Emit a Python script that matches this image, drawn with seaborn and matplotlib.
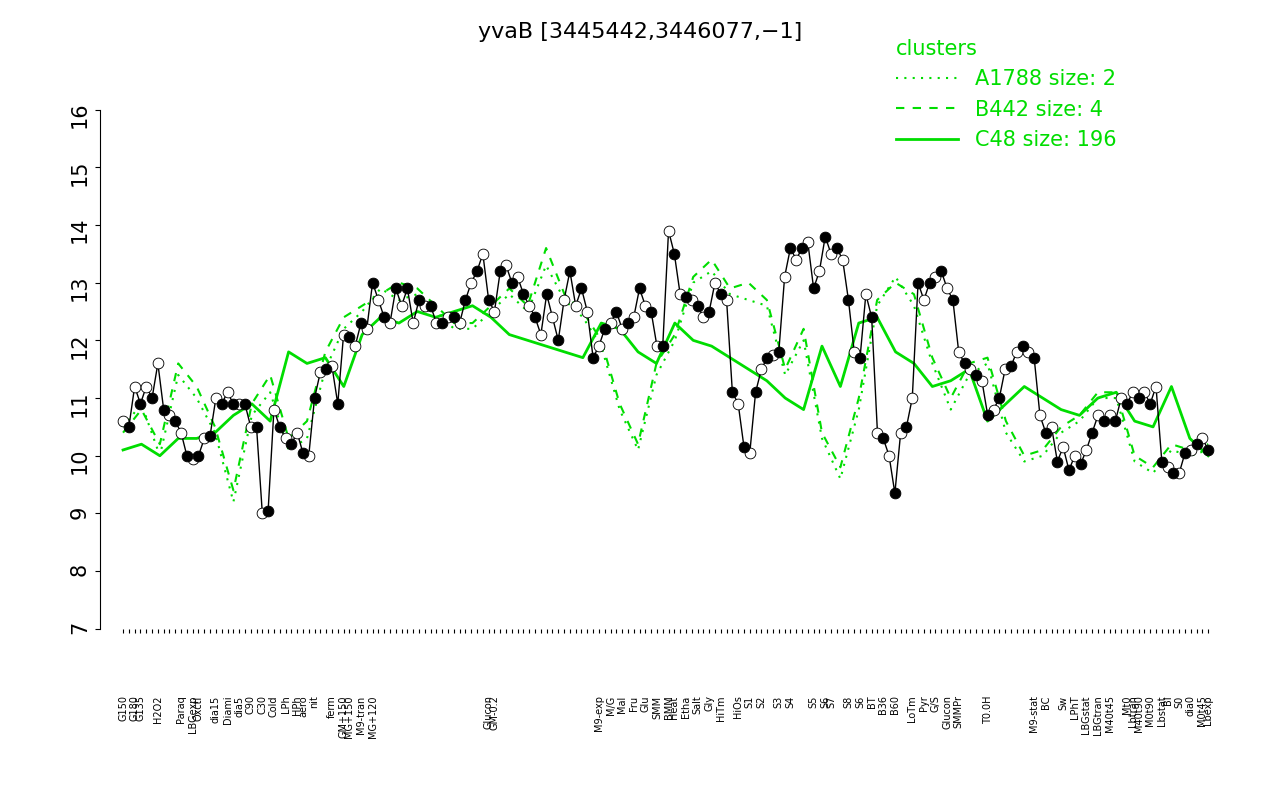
import numpy as np
import pandas as pd
import seaborn as sns
import matplotlib.pyplot as plt
from matplotlib.lines import Line2D

labels = ["G150","","G180","G135","","","H2O2","","","","Paraq","","LBGexp","Oxctl","","",
          "dia15","","Diami","","dia5","","C90","","C30","","Cold","","LPh","","HPh","aero","",
          "nit","","","ferm","","GM+150","MG+150","","M9-tran","","MG+120","","","","","","","",
          "","","","","","","","","","","","","Glucon","GM-0.2","","","","","","","","","","","",
          "","","","","","","M9-exp","","M/G","","Mal","","Fru","","Glu","","SMM","","BMM","Heat",
          "","Etha","","Salt","","Gly","","HiTm","","","HiOs","","S1","","S2","","","S3","","S4",
          "","","","S5","","S6","S7","","","S8","","S6","","BT","","B36","","B60","","","LoTm","",
          "Pyr","","G/S","","Glucon","","SMMPr","","","","","T0.0H","","","","","","","","M9-stat",
          "","BC","","","Sw","","LPhT","","LBGstat","","LBGtran","","M40t45","","","Mt0","Lbtran",
          "M40t90","","M0t90","","Lbstat","BI","","S0","","dia0","","M0t45","Lbexp","Mt0"]
values = [10.6,10.5,11.2,10.9,11.2,11.0,11.6,10.8,10.7,10.6,10.4,10.0,9.95,10.0,10.3,10.35,
          11.0,10.9,11.1,10.9,10.9,10.9,10.5,10.5,9.0,9.05,10.8,10.5,10.3,10.2,10.4,10.05,10.0,
          11.0,11.45,11.5,11.55,10.9,12.1,12.05,11.9,12.3,12.2,13.0,12.7,12.4,12.3,12.9,12.6,12.9,12.3,
          12.7,12.6,12.6,12.3,12.3,12.4,12.4,12.3,12.7,13.0,13.2,13.5,12.7,12.5,13.2,13.3,13.0,13.1,12.8,
          12.6,12.4,12.1,12.8,12.4,12.0,12.7,13.2,12.6,12.9,12.5,11.7,11.9,12.2,12.3,12.5,12.2,12.3,12.4,
          12.9,12.6,12.5,11.9,11.9,13.9,13.5,12.8,12.75,12.7,12.6,12.4,12.5,13.0,12.8,12.7,11.1,10.9,
          10.15,10.05,11.1,11.5,11.7,11.75,11.8,13.1,13.6,13.4,13.6,13.7,12.9,13.2,13.8,13.5,13.6,13.4,
          12.7,11.8,11.7,12.8,12.4,10.4,10.3,10.0,9.35,10.4,10.5,11.0,13.0,12.7,13.0,13.1,13.2,12.9,12.7,
          11.8,11.6,11.5,11.4,11.3,10.7,10.8,11.0,11.5,11.55,11.8,11.9,11.8,11.7,10.7,10.4,10.5,9.9,10.15,
          9.75,10.0,9.85,10.1,10.4,10.7,10.6,10.7,10.6,11.0,10.9,11.1,11.0,11.1,10.9,11.2,9.9,9.8,9.7,9.7,
          10.05,10.1,10.2,10.3,10.1]
c48 = [10.1,10.2,10.0,10.3,10.3,10.4,10.7,10.9,10.6,11.8,11.6,11.7,11.2,12.1,12.4,12.3,12.5,12.4,
       12.5,12.6,12.4,12.1,12.0,11.9,11.8,11.7,12.3,12.2,11.8,11.6,12.3,12.0,11.9,11.7,11.5,11.3,11.0,
       10.8,11.9,11.2,12.3,12.4,11.8,11.6,11.2,11.3,11.5,10.6,10.9,11.2,11.0,10.8,10.7,11.0,11.1,10.6,
       10.5,11.2,10.3,10.0]
b442 = [10.4,10.8,10.2,11.6,11.2,10.5,9.4,10.9,11.4,10.3,10.6,11.8,12.4,12.6,12.8,13.0,12.9,12.6,
        12.3,12.3,12.6,12.9,12.6,13.6,12.8,12.5,12.0,10.9,10.2,11.6,12.1,13.1,13.4,12.9,13.0,12.7,11.5,
        12.2,10.4,9.8,11.0,12.7,13.0,12.8,11.7,11.0,11.6,11.7,10.6,10.0,10.1,10.5,10.7,11.1,11.1,10.0,
        9.8,10.2,10.1,10.2]
a1788 = [10.5,10.9,10.0,11.4,11.0,10.4,9.2,10.7,11.1,10.1,10.3,11.5,12.2,12.5,12.9,12.7,12.8,12.5,
         12.2,12.2,12.5,12.8,12.5,13.3,12.7,12.4,11.9,10.8,10.1,11.4,12.0,13.0,13.2,12.8,12.7,12.6,11.4,
         12.0,10.3,9.6,10.8,12.6,13.1,12.6,11.6,10.8,11.4,11.6,10.4,9.9,10.0,10.4,10.6,11.0,11.0,9.9,
         9.7,10.1,10.0,10.1]

n = min(len(labels), len(values))
df = pd.DataFrame({"x": np.arange(n), "y": values[:n]})
green = "#00dd00"

fig = plt.figure(figsize=(12.8, 8), dpi=100)
ax = fig.add_axes([0.078, 0.214, 0.875, 0.649])
cx = np.linspace(0, n - 1, len(c48))
ax.plot(cx, c48, color=green, lw=2)
ax.plot(np.linspace(0, n - 1, len(b442)), b442, color=green, lw=1.5, ls=(0, (4, 4)))
ax.plot(np.linspace(0, n - 1, len(a1788)), a1788, color=green, lw=1.5, ls=(0, (1, 3)))
sns.lineplot(data=df, x="x", y="y", color="black", lw=1, ax=ax)
sns.scatterplot(data=df[::2], x="x", y="y", color="white", edgecolor="black", s=60, zorder=3, ax=ax)
sns.scatterplot(data=df[1::2], x="x", y="y", color="black", edgecolor="black", s=60, zorder=3, ax=ax)

ax.set_ylim(7, 16)
ax.set_xlim(-4, n + 1)
ax.set_yticks(range(7, 17))
ax.tick_params(axis="y", labelrotation=90, labelsize=15)
ax.set_xticks(np.arange(n))
ax.set_xticklabels(labels[:n], rotation=90, fontsize=7)
ax.tick_params(axis="x", length=3, pad=45)
ax.set_xlabel("")
ax.set_ylabel("")
for s in ["top", "right", "bottom"]:
    ax.spines[s].set_visible(False)
fig.text(0.5, 0.96, "yvaB [3445442,3446077,\u22121]", ha="center", va="center", fontsize=16)

handles = [Line2D([], [], color=green, lw=1.5, ls=(0, (1, 3))),
           Line2D([], [], color=green, lw=1.5, ls=(0, (4, 4))),
           Line2D([], [], color=green, lw=2)]
leg = fig.legend(handles, ["A1788 size: 2", "B442 size: 4", "C48 size: 196"],
                 loc="upper left", bbox_to_anchor=(0.685, 0.975), frameon=False,
                 title="clusters", fontsize=15, title_fontsize=15, labelcolor=green,
                 alignment="left", handlelength=3)
leg.get_title().set_color(green)
fig.savefig("out.png", dpi=100)
